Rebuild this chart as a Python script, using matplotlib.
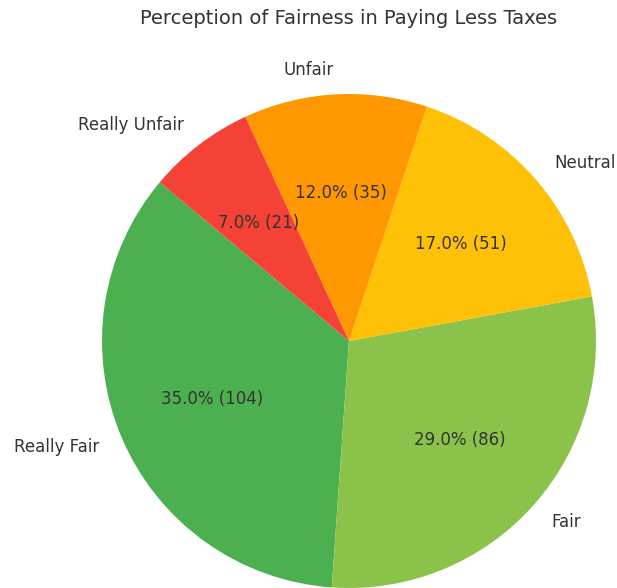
import matplotlib
matplotlib.use("Agg")
import matplotlib.pyplot as plt

categories = ["Really Fair", "Fair", "Neutral", "Unfair", "Really Unfair"]
percentages = [35, 29, 17, 12, 7]
counts = [104, 86, 51, 35, 21]
colors = ["#4CAF50", "#8BC34A", "#FFC107", "#FF9800", "#F44336"]
title = "Perception of Fairness in Paying Less Taxes"

W, H = 617, 588
fig = plt.figure(figsize=(W / 100, H / 100), dpi=100)
ax = fig.add_axes([0, 0, 1, 1])

cx, cy, r = 349, 341, 247

def fmt(pct):
    idx = min(range(len(percentages)), key=lambda i: abs(percentages[i] - pct))
    return f"{pct:.1f}% ({counts[idx]})"

wedges, texts, autotexts = ax.pie(
    percentages, labels=categories, colors=colors, startangle=140,
    autopct=fmt, pctdistance=0.6, labeldistance=1.1,
    textprops={"fontsize": 12, "color": "#333333"},
)
ax.set_xlim((0 - cx) / r, (W - cx) / r)
ax.set_ylim((cy - H) / r, cy / r)
ax.set_aspect("equal")
ax.axis("off")

fig.text(cx / W, 1 - 18 / H, title, ha="center", va="center",
         fontsize=14, color="#333333")

fig.savefig("out.png", dpi=100)
